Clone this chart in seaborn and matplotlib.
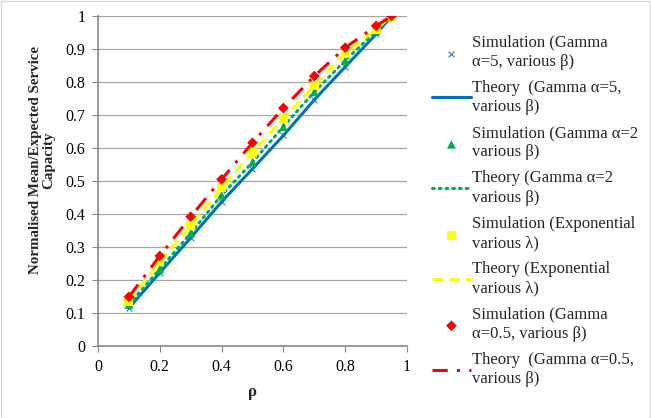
import matplotlib
matplotlib.use("Agg")
import matplotlib.pyplot as plt
import seaborn as sns
from matplotlib.patches import Rectangle

rho = [0.1, 0.2, 0.3, 0.4, 0.5, 0.6, 0.7, 0.8, 0.9, 0.95]
sim_a5 = [0.115, 0.222, 0.328, 0.437, 0.537, 0.638, 0.746, 0.846, 0.945, 1.0]
thy_a5 = [0.115, 0.222, 0.328, 0.437, 0.537, 0.638, 0.746, 0.846, 0.945, 1.0]
sim_a2 = [0.126, 0.233, 0.342, 0.457, 0.557, 0.665, 0.770, 0.865, 0.955, 1.0]
thy_a2 = [0.126, 0.233, 0.342, 0.457, 0.557, 0.665, 0.770, 0.865, 0.955, 1.0]
sim_exp = [0.136, 0.255, 0.366, 0.479, 0.586, 0.690, 0.790, 0.887, 0.960, 1.0]
thy_exp = [0.136, 0.255, 0.366, 0.479, 0.586, 0.690, 0.790, 0.887, 0.960, 1.0]
sim_a05 = [0.149, 0.273, 0.392, 0.505, 0.616, 0.721, 0.818, 0.904, 0.970, 1.0]
thy_a05 = [0.149, 0.273, 0.392, 0.505, 0.616, 0.721, 0.818, 0.904, 0.970, 1.0]

labels = [
    "Simulation (Gamma\nα=5, various β)",
    "Theory  (Gamma α=5,\nvarious β)",
    "Simulation (Gamma α=2\nvarious β)",
    "Theory (Gamma α=2\nvarious β)",
    "Simulation (Exponential\nvarious λ)",
    "Theory (Exponential\nvarious λ)",
    "Simulation (Gamma\nα=0.5, various β)",
    "Theory  (Gamma α=0.5,\nvarious β)",
]

sns.set_style("white")
plt.rcParams['font.family'] = ['Liberation Serif', 'DejaVu Serif']

fig = plt.figure(figsize=(6.51, 4.18), dpi=100)
ax = fig.add_axes([0.1505, 0.1722, 0.4747, 0.7895])

handles = []
# alpha = 5
sns.scatterplot(x=rho, y=sim_a5, ax=ax, marker='x', s=18, color='#4F81BD', linewidth=0.9, zorder=3)
handles.append(ax.collections[-1])
sns.lineplot(x=rho, y=thy_a5, ax=ax, color='#0070C0', linewidth=2.2, zorder=3)
handles.append(ax.lines[-1])
# alpha = 2
sns.scatterplot(x=rho, y=sim_a2, ax=ax, marker='^', s=40, color='#00B050', edgecolor='none', zorder=4)
handles.append(ax.collections[-1])
sns.lineplot(x=rho, y=thy_a2, ax=ax, color='#00B050', linewidth=2.2, linestyle=(0, (0.6, 1.6)),
             dash_capstyle='round', zorder=4)
handles.append(ax.lines[-1])
# exponential
sns.scatterplot(x=rho, y=sim_exp, ax=ax, marker='s', s=42, color='#FFFF00', edgecolor='none', zorder=5)
handles.append(ax.collections[-1])
sns.lineplot(x=rho, y=thy_exp, ax=ax, color='#FFFF00', linewidth=2.2, linestyle=(0, (3.5, 2)), zorder=5)
handles.append(ax.lines[-1])
# alpha = 0.5
sns.scatterplot(x=rho, y=sim_a05, ax=ax, marker='D', s=30, color='#FF0000', edgecolor='none', zorder=6)
handles.append(ax.collections[-1])
sns.lineplot(x=rho, y=thy_a05, ax=ax, color='#FF0000', linewidth=2.2, linestyle=(0, (5, 3, 1, 3)), zorder=6)
handles.append(ax.lines[-1])

ax.set_xlim(0, 1)
ax.set_ylim(0, 1)
ax.set_xticks([0, 0.2, 0.4, 0.6, 0.8, 1.0])
ax.set_xticklabels(['0', '0.2', '0.4', '0.6', '0.8', '1'])
ax.set_yticks([i / 10 for i in range(11)])
ax.set_yticklabels(['0'] + [f'{i/10:.1f}' for i in range(1, 10)] + ['1'])
ax.yaxis.grid(True, color='#A6A6A6', linewidth=0.9)
ax.xaxis.grid(False)
for s in ['top', 'right']:
    ax.spines[s].set_visible(False)
for s in ['left', 'bottom']:
    ax.spines[s].set_color('#868686')
    ax.spines[s].set_linewidth(1.2)
ax.tick_params(axis='both', which='both', direction='out', length=4, color='#868686',
               labelsize=11.5, colors='black', left=True, bottom=True)
ax.tick_params(axis='y', pad=5)
ax.tick_params(axis='x', pad=5)

ax.set_xlabel('ρ', fontsize=12, fontweight='bold', labelpad=7)
ax.set_ylabel('Normalised Mean/Expected Service\nCapacity', fontsize=10.8, fontweight='bold',
              linespacing=1.05)
ax.yaxis.set_label_coords(-0.139, 0.564)

leg = fig.legend(handles, labels, loc='upper left', bbox_to_anchor=(0.664, 0.918), frameon=False,
                 fontsize=12, handlelength=2.3, handletextpad=0.1, labelspacing=0.6, borderpad=0,
                 borderaxespad=0, markerscale=1.0)
for t in leg.get_texts():
    t.set_linespacing(1.28)

fig.patches.append(Rectangle((0.001, 0.001), 0.997, 0.997, transform=fig.transFigure,
                             fill=False, edgecolor='#D9D9D9', linewidth=1))

fig.savefig('out.png', dpi=100)
